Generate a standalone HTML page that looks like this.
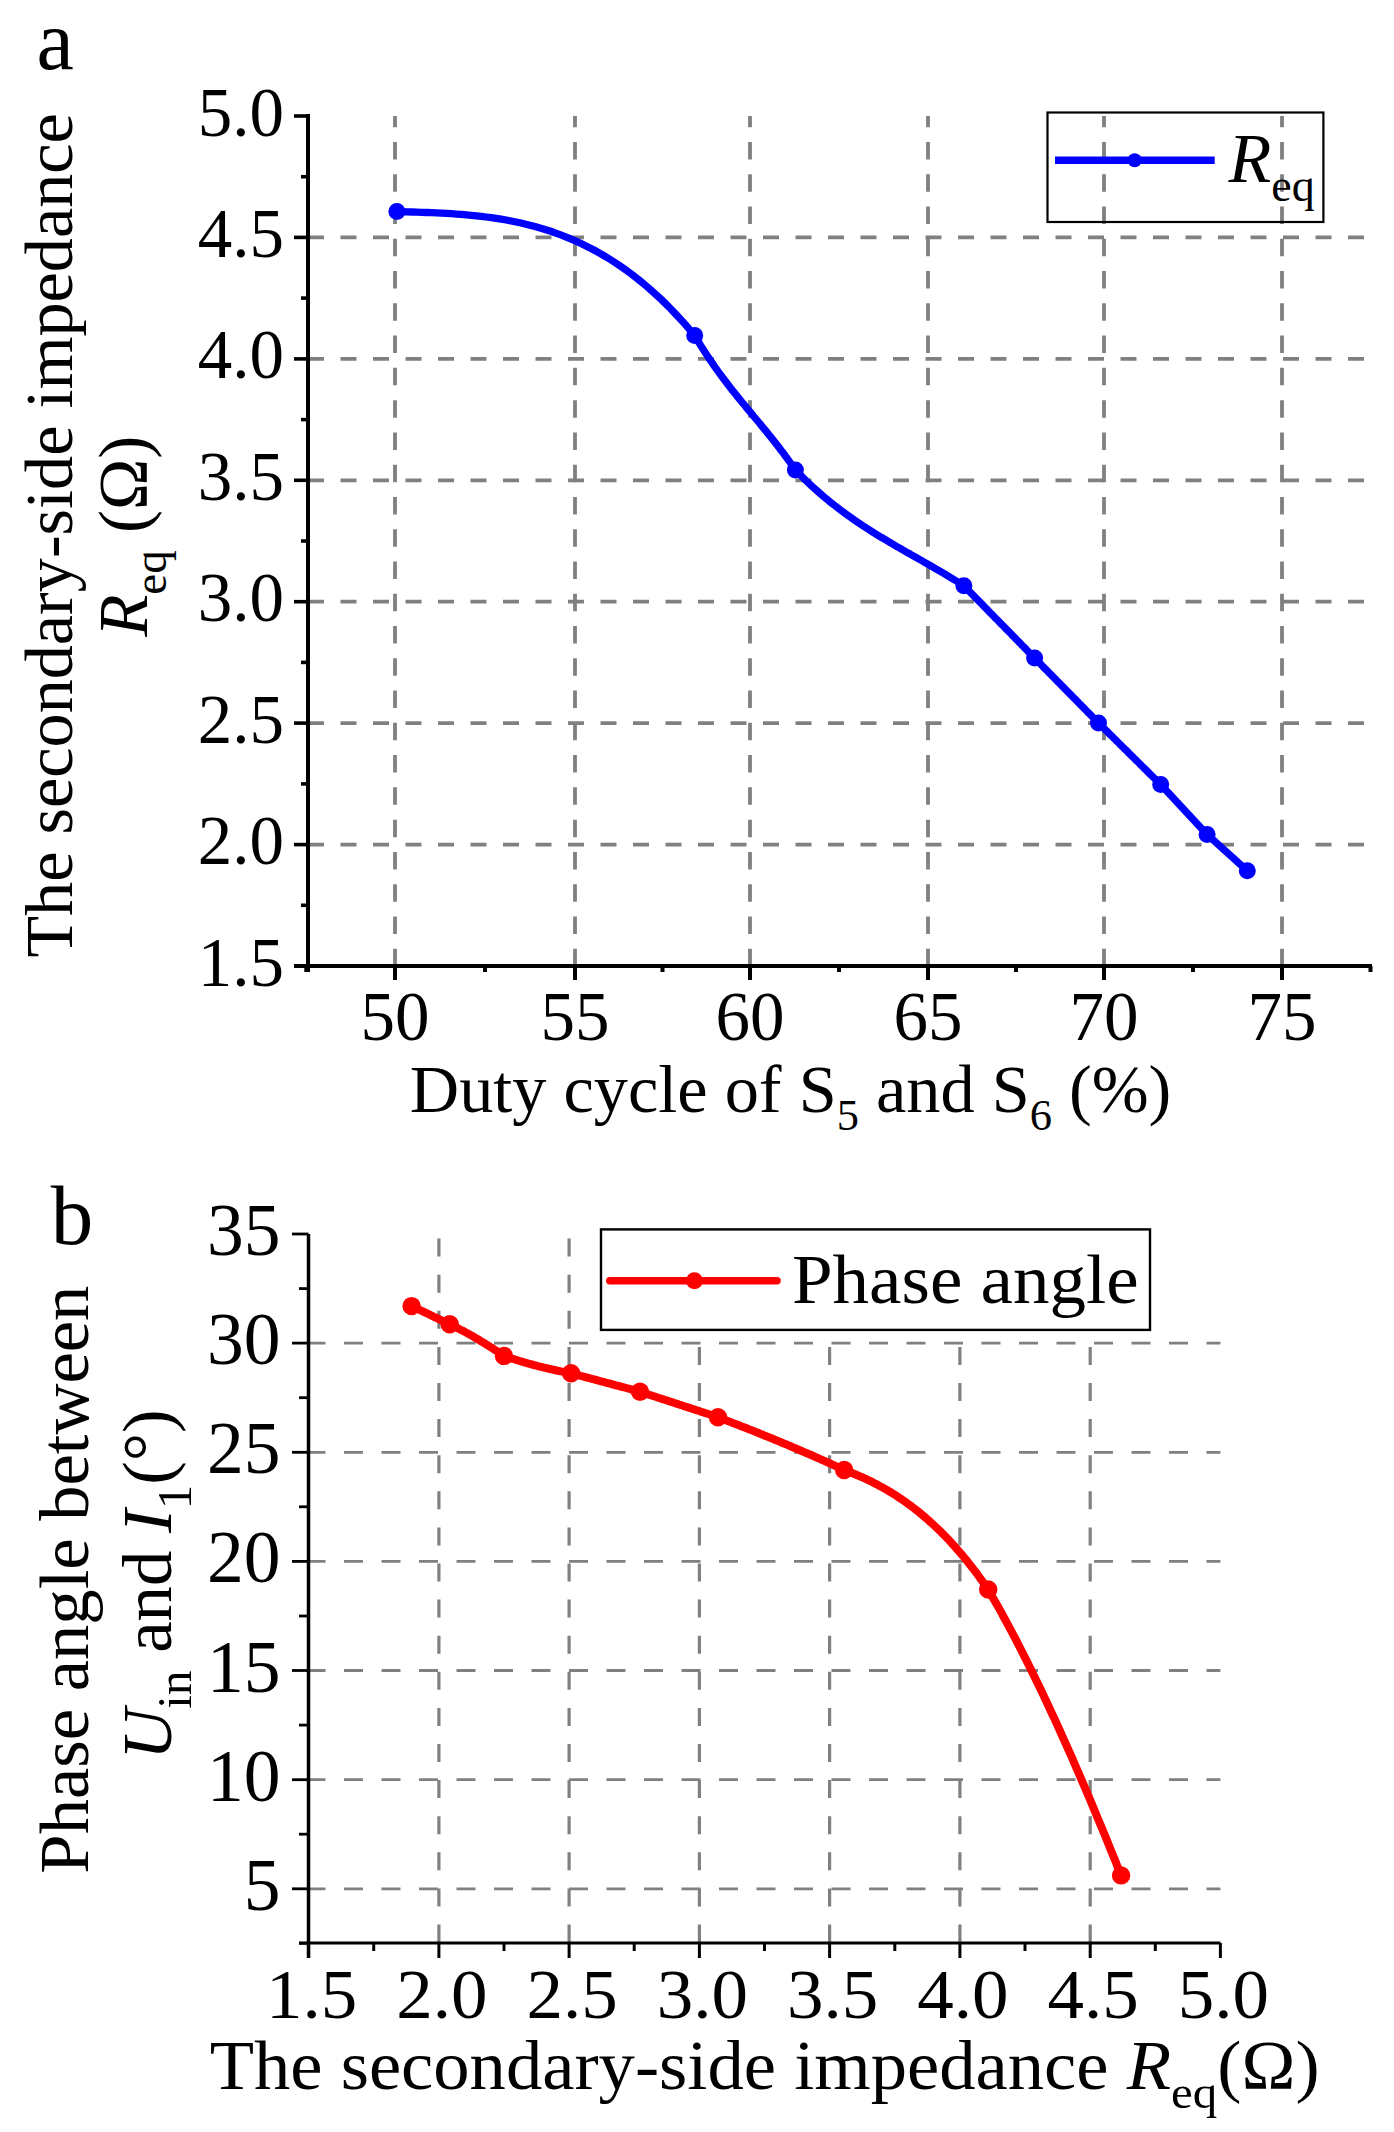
<!DOCTYPE html>
<html><head><meta charset="utf-8"><title>chart</title>
<style>html,body{margin:0;padding:0;background:#fff;} svg{display:block;} text{font-family:"Liberation Serif", serif; fill:#000;}</style>
</head><body>
<svg width="1394" height="2132" viewBox="0 0 1394 2132" font-family="'Liberation Serif', serif">
<line x1="308.0" y1="237.4" x2="1370" y2="237.4" stroke="#808080" stroke-width="3.8" stroke-dasharray="16 16.5"/>
<line x1="308.0" y1="358.9" x2="1370" y2="358.9" stroke="#808080" stroke-width="3.8" stroke-dasharray="16 16.5"/>
<line x1="308.0" y1="480.3" x2="1370" y2="480.3" stroke="#808080" stroke-width="3.8" stroke-dasharray="16 16.5"/>
<line x1="308.0" y1="601.7" x2="1370" y2="601.7" stroke="#808080" stroke-width="3.8" stroke-dasharray="16 16.5"/>
<line x1="308.0" y1="723.1" x2="1370" y2="723.1" stroke="#808080" stroke-width="3.8" stroke-dasharray="16 16.5"/>
<line x1="308.0" y1="844.6" x2="1370" y2="844.6" stroke="#808080" stroke-width="3.8" stroke-dasharray="16 16.5"/>
<line x1="395" y1="116.0" x2="395" y2="966.0" stroke="#808080" stroke-width="3.8" stroke-dasharray="17.5 14.77" stroke-dashoffset="6.3"/>
<line x1="575" y1="116.0" x2="575" y2="966.0" stroke="#808080" stroke-width="3.8" stroke-dasharray="17.5 14.77" stroke-dashoffset="6.3"/>
<line x1="750" y1="116.0" x2="750" y2="966.0" stroke="#808080" stroke-width="3.8" stroke-dasharray="17.5 14.77" stroke-dashoffset="6.3"/>
<line x1="928" y1="116.0" x2="928" y2="966.0" stroke="#808080" stroke-width="3.8" stroke-dasharray="17.5 14.77" stroke-dashoffset="6.3"/>
<line x1="1104" y1="116.0" x2="1104" y2="966.0" stroke="#808080" stroke-width="3.8" stroke-dasharray="17.5 14.77" stroke-dashoffset="6.3"/>
<line x1="1282" y1="116.0" x2="1282" y2="966.0" stroke="#808080" stroke-width="3.8" stroke-dasharray="17.5 14.77" stroke-dashoffset="6.3"/>
<line x1="308.0" y1="114.0" x2="308.0" y2="972" stroke="#000" stroke-width="4"/>
<line x1="294" y1="966.0" x2="1372" y2="966.0" stroke="#000" stroke-width="4"/>
<line x1="294" y1="116.0" x2="308.0" y2="116.0" stroke="#000" stroke-width="3.6"/>
<line x1="301" y1="176.7" x2="308.0" y2="176.7" stroke="#000" stroke-width="3.6"/>
<line x1="294" y1="237.4" x2="308.0" y2="237.4" stroke="#000" stroke-width="3.6"/>
<line x1="301" y1="298.1" x2="308.0" y2="298.1" stroke="#000" stroke-width="3.6"/>
<line x1="294" y1="358.9" x2="308.0" y2="358.9" stroke="#000" stroke-width="3.6"/>
<line x1="301" y1="419.6" x2="308.0" y2="419.6" stroke="#000" stroke-width="3.6"/>
<line x1="294" y1="480.3" x2="308.0" y2="480.3" stroke="#000" stroke-width="3.6"/>
<line x1="301" y1="541.0" x2="308.0" y2="541.0" stroke="#000" stroke-width="3.6"/>
<line x1="294" y1="601.7" x2="308.0" y2="601.7" stroke="#000" stroke-width="3.6"/>
<line x1="301" y1="662.4" x2="308.0" y2="662.4" stroke="#000" stroke-width="3.6"/>
<line x1="294" y1="723.1" x2="308.0" y2="723.1" stroke="#000" stroke-width="3.6"/>
<line x1="301" y1="783.9" x2="308.0" y2="783.9" stroke="#000" stroke-width="3.6"/>
<line x1="294" y1="844.6" x2="308.0" y2="844.6" stroke="#000" stroke-width="3.6"/>
<line x1="301" y1="905.3" x2="308.0" y2="905.3" stroke="#000" stroke-width="3.6"/>
<line x1="294" y1="966.0" x2="308.0" y2="966.0" stroke="#000" stroke-width="3.6"/>
<line x1="395" y1="966.0" x2="395" y2="980" stroke="#000" stroke-width="4"/>
<line x1="575" y1="966.0" x2="575" y2="980" stroke="#000" stroke-width="4"/>
<line x1="750" y1="966.0" x2="750" y2="980" stroke="#000" stroke-width="4"/>
<line x1="928" y1="966.0" x2="928" y2="980" stroke="#000" stroke-width="4"/>
<line x1="1104" y1="966.0" x2="1104" y2="980" stroke="#000" stroke-width="4"/>
<line x1="1282" y1="966.0" x2="1282" y2="980" stroke="#000" stroke-width="4"/>
<line x1="306.3" y1="966.0" x2="306.3" y2="972" stroke="#000" stroke-width="4"/>
<line x1="485" y1="966.0" x2="485" y2="972" stroke="#000" stroke-width="4"/>
<line x1="662.5" y1="966.0" x2="662.5" y2="972" stroke="#000" stroke-width="4"/>
<line x1="839" y1="966.0" x2="839" y2="972" stroke="#000" stroke-width="4"/>
<line x1="1016" y1="966.0" x2="1016" y2="972" stroke="#000" stroke-width="4"/>
<line x1="1193" y1="966.0" x2="1193" y2="972" stroke="#000" stroke-width="4"/>
<line x1="1370.5" y1="966.0" x2="1370.5" y2="972" stroke="#000" stroke-width="4"/>
<text x="284" y="135.5" font-size="69" text-anchor="end">5.0</text>
<text x="284" y="256.9" font-size="69" text-anchor="end">4.5</text>
<text x="284" y="378.4" font-size="69" text-anchor="end">4.0</text>
<text x="284" y="499.8" font-size="69" text-anchor="end">3.5</text>
<text x="284" y="621.2" font-size="69" text-anchor="end">3.0</text>
<text x="284" y="742.6" font-size="69" text-anchor="end">2.5</text>
<text x="284" y="864.1" font-size="69" text-anchor="end">2.0</text>
<text x="284" y="985.5" font-size="69" text-anchor="end">1.5</text>
<text x="395" y="1040" font-size="69" text-anchor="middle">50</text>
<text x="575" y="1040" font-size="69" text-anchor="middle">55</text>
<text x="750" y="1040" font-size="69" text-anchor="middle">60</text>
<text x="928" y="1040" font-size="69" text-anchor="middle">65</text>
<text x="1104" y="1040" font-size="69" text-anchor="middle">70</text>
<text x="1282" y="1040" font-size="69" text-anchor="middle">75</text>
<text x="790.6" y="1111.7" font-size="68.3" text-anchor="middle">Duty cycle of S<tspan font-size="44.5" dy="18">5</tspan><tspan dy="-18"> and S</tspan><tspan font-size="44.5" dy="18">6</tspan><tspan dy="-18"> (%)</tspan></text>
<text transform="translate(71.7,535.4) rotate(-90)" x="0" y="0" font-size="68.2" text-anchor="middle">The secondary-side impedance</text>
<text transform="translate(147.4,536.3) rotate(-90)" x="0" y="0" font-size="69" text-anchor="middle"><tspan font-style="italic">R</tspan><tspan font-size="47" dy="19">eq</tspan><tspan dy="-19"> (Ω)</tspan></text>
<rect x="1047.5" y="112.5" width="275.9" height="109.5" fill="none" stroke="#000" stroke-width="2.2"/>
<line x1="1055" y1="160.2" x2="1214.7" y2="160.2" stroke="#0000ff" stroke-width="7.5"/>
<circle cx="1134.7" cy="160.2" r="7" fill="#0000ff"/>
<text x="1228.5" y="181.8" font-size="70"><tspan font-style="italic">R</tspan><tspan font-size="46" dy="19">eq</tspan></text>
<path d="M396.9,211.6 L401.9,211.7 L406.8,211.9 L411.8,212.0 L416.8,212.2 L421.7,212.3 L426.7,212.5 L431.6,212.7 L436.6,212.9 L441.6,213.2 L446.5,213.4 L451.5,213.7 L456.5,214.1 L461.4,214.4 L466.4,214.9 L471.4,215.3 L476.3,215.8 L481.3,216.4 L486.2,217.0 L491.2,217.7 L496.2,218.4 L501.1,219.2 L506.1,220.0 L511.1,221.0 L516.0,222.0 L521.0,223.0 L525.9,224.2 L530.9,225.5 L535.9,226.8 L540.8,228.2 L545.8,229.7 L550.8,231.3 L555.7,233.1 L560.7,234.9 L565.7,236.8 L570.6,238.8 L575.6,241.0 L580.5,243.3 L585.5,245.7 L590.5,248.2 L595.4,250.8 L600.4,253.6 L605.4,256.5 L610.3,259.5 L615.3,262.7 L620.2,266.0 L625.2,269.5 L630.2,273.1 L635.1,276.9 L640.1,280.9 L645.1,285.0 L650.0,289.2 L655.0,293.7 L660.0,298.3 L664.9,303.0 L669.9,308.0 L674.8,313.1 L679.8,318.4 L684.8,323.9 L689.7,329.6 L694.7,335.5 L696.4,338.3 L698.1,341.1 L699.7,343.9 L701.4,346.6 L703.1,349.2 L704.8,351.9 L706.4,354.4 L708.1,357.0 L709.8,359.5 L711.5,361.9 L713.2,364.4 L714.8,366.8 L716.5,369.1 L718.2,371.5 L719.9,373.8 L721.6,376.1 L723.2,378.3 L724.9,380.5 L726.6,382.7 L728.3,384.9 L729.9,387.1 L731.6,389.2 L733.3,391.4 L735.0,393.5 L736.7,395.6 L738.3,397.6 L740.0,399.7 L741.7,401.8 L743.4,403.8 L745.0,405.8 L746.7,407.9 L748.4,409.9 L750.1,411.9 L751.8,413.9 L753.4,416.0 L755.1,418.0 L756.8,420.0 L758.5,422.0 L760.2,424.0 L761.8,426.1 L763.5,428.1 L765.2,430.2 L766.9,432.2 L768.5,434.3 L770.2,436.4 L771.9,438.4 L773.6,440.6 L775.3,442.7 L776.9,444.8 L778.6,447.0 L780.3,449.2 L782.0,451.4 L783.7,453.6 L785.3,455.9 L787.0,458.1 L788.7,460.5 L790.4,462.8 L792.0,465.2 L793.7,467.6 L795.4,470.0 L798.2,472.9 L801.0,475.7 L803.8,478.5 L806.6,481.2 L809.4,483.9 L812.2,486.5 L815.1,489.0 L817.9,491.5 L820.7,494.0 L823.5,496.4 L826.3,498.7 L829.1,501.1 L831.9,503.3 L834.7,505.5 L837.5,507.7 L840.3,509.8 L843.1,511.9 L845.9,514.0 L848.8,516.0 L851.6,518.0 L854.4,520.0 L857.2,521.9 L860.0,523.8 L862.8,525.7 L865.6,527.5 L868.4,529.3 L871.2,531.1 L874.0,532.9 L876.8,534.6 L879.6,536.3 L882.5,538.0 L885.3,539.7 L888.1,541.4 L890.9,543.0 L893.7,544.7 L896.5,546.3 L899.3,547.9 L902.1,549.5 L904.9,551.2 L907.7,552.8 L910.5,554.3 L913.3,555.9 L916.2,557.5 L919.0,559.1 L921.8,560.7 L924.6,562.3 L927.4,563.9 L930.2,565.5 L933.0,567.1 L935.8,568.8 L938.6,570.4 L941.4,572.0 L944.2,573.7 L947.0,575.4 L949.9,577.1 L952.7,578.8 L955.5,580.5 L958.3,582.2 L961.1,584.0 L963.9,585.8 L965.1,587.0 L966.3,588.2 L967.4,589.4 L968.6,590.6 L969.8,591.8 L971.0,593.0 L972.1,594.2 L973.3,595.4 L974.5,596.6 L975.7,597.8 L976.9,599.0 L978.0,600.2 L979.2,601.4 L980.4,602.6 L981.6,603.8 L982.8,605.1 L983.9,606.3 L985.1,607.5 L986.3,608.7 L987.5,609.9 L988.6,611.1 L989.8,612.3 L991.0,613.5 L992.2,614.7 L993.4,615.9 L994.5,617.1 L995.7,618.3 L996.9,619.5 L998.1,620.7 L999.2,621.9 L1000.4,623.1 L1001.6,624.3 L1002.8,625.5 L1004.0,626.7 L1005.1,627.9 L1006.3,629.1 L1007.5,630.3 L1008.7,631.5 L1009.9,632.7 L1011.0,633.9 L1012.2,635.1 L1013.4,636.3 L1014.6,637.5 L1015.7,638.7 L1016.9,640.0 L1018.1,641.2 L1019.3,642.4 L1020.5,643.6 L1021.6,644.8 L1022.8,646.0 L1024.0,647.2 L1025.2,648.4 L1026.4,649.6 L1027.5,650.8 L1028.7,652.0 L1029.9,653.2 L1031.1,654.4 L1032.2,655.6 L1033.4,656.8 L1034.6,658.0 L1035.7,659.1 L1036.7,660.2 L1037.8,661.2 L1038.9,662.3 L1039.9,663.4 L1041.0,664.5 L1042.1,665.6 L1043.1,666.7 L1044.2,667.8 L1045.2,668.8 L1046.3,669.9 L1047.4,671.0 L1048.4,672.1 L1049.5,673.2 L1050.6,674.2 L1051.6,675.3 L1052.7,676.4 L1053.8,677.5 L1054.8,678.6 L1055.9,679.7 L1057.0,680.8 L1058.0,681.8 L1059.1,682.9 L1060.2,684.0 L1061.2,685.1 L1062.3,686.2 L1063.4,687.2 L1064.4,688.3 L1065.5,689.4 L1066.5,690.5 L1067.6,691.6 L1068.7,692.7 L1069.7,693.8 L1070.8,694.8 L1071.9,695.9 L1072.9,697.0 L1074.0,698.1 L1075.1,699.2 L1076.1,700.2 L1077.2,701.3 L1078.3,702.4 L1079.3,703.5 L1080.4,704.6 L1081.5,705.7 L1082.5,706.8 L1083.6,707.8 L1084.7,708.9 L1085.7,710.0 L1086.8,711.1 L1087.8,712.2 L1088.9,713.2 L1090.0,714.3 L1091.0,715.4 L1092.1,716.5 L1093.2,717.6 L1094.2,718.7 L1095.3,719.8 L1096.4,720.8 L1097.4,721.9 L1098.5,723.0 L1099.5,724.0 L1100.6,725.1 L1101.6,726.1 L1102.6,727.1 L1103.7,728.1 L1104.7,729.2 L1105.8,730.2 L1106.8,731.2 L1107.8,732.2 L1108.9,733.3 L1109.9,734.3 L1110.9,735.3 L1112.0,736.3 L1113.0,737.4 L1114.0,738.4 L1115.1,739.4 L1116.1,740.5 L1117.2,741.5 L1118.2,742.5 L1119.2,743.5 L1120.3,744.6 L1121.3,745.6 L1122.3,746.6 L1123.4,747.6 L1124.4,748.7 L1125.5,749.7 L1126.5,750.7 L1127.5,751.7 L1128.6,752.8 L1129.6,753.8 L1130.6,754.8 L1131.7,755.9 L1132.7,756.9 L1133.7,757.9 L1134.8,758.9 L1135.8,760.0 L1136.9,761.0 L1137.9,762.0 L1138.9,763.0 L1140.0,764.1 L1141.0,765.1 L1142.0,766.1 L1143.1,767.1 L1144.1,768.2 L1145.2,769.2 L1146.2,770.2 L1147.2,771.3 L1148.3,772.3 L1149.3,773.3 L1150.3,774.3 L1151.4,775.4 L1152.4,776.4 L1153.4,777.4 L1154.5,778.4 L1155.5,779.5 L1156.6,780.5 L1157.6,781.5 L1158.6,782.5 L1159.7,783.6 L1160.7,784.6 L1161.5,785.4 L1162.2,786.3 L1163.0,787.1 L1163.8,787.9 L1164.6,788.8 L1165.3,789.6 L1166.1,790.4 L1166.9,791.3 L1167.7,792.1 L1168.4,792.9 L1169.2,793.7 L1170.0,794.6 L1170.8,795.4 L1171.5,796.2 L1172.3,797.1 L1173.1,797.9 L1173.8,798.7 L1174.6,799.6 L1175.4,800.4 L1176.2,801.2 L1176.9,802.1 L1177.7,802.9 L1178.5,803.7 L1179.3,804.6 L1180.0,805.4 L1180.8,806.2 L1181.6,807.1 L1182.4,807.9 L1183.1,808.7 L1183.9,809.5 L1184.7,810.4 L1185.4,811.2 L1186.2,812.0 L1187.0,812.9 L1187.8,813.7 L1188.5,814.5 L1189.3,815.4 L1190.1,816.2 L1190.9,817.0 L1191.6,817.9 L1192.4,818.7 L1193.2,819.5 L1194.0,820.4 L1194.7,821.2 L1195.5,822.0 L1196.3,822.9 L1197.0,823.7 L1197.8,824.5 L1198.6,825.4 L1199.4,826.2 L1200.1,827.0 L1200.9,827.8 L1201.7,828.7 L1202.5,829.5 L1203.2,830.3 L1204.0,831.2 L1204.8,832.0 L1205.6,832.8 L1206.3,833.7 L1207.1,834.5 L1207.8,835.1 L1208.4,835.7 L1209.1,836.3 L1209.8,836.9 L1210.4,837.5 L1211.1,838.1 L1211.8,838.7 L1212.5,839.3 L1213.1,839.9 L1213.8,840.5 L1214.5,841.1 L1215.1,841.7 L1215.8,842.3 L1216.5,842.9 L1217.1,843.5 L1217.8,844.2 L1218.5,844.8 L1219.2,845.4 L1219.8,846.0 L1220.5,846.6 L1221.2,847.2 L1221.8,847.8 L1222.5,848.4 L1223.2,849.0 L1223.8,849.6 L1224.5,850.2 L1225.2,850.8 L1225.9,851.4 L1226.5,852.0 L1227.2,852.6 L1227.9,853.2 L1228.5,853.8 L1229.2,854.4 L1229.9,855.0 L1230.5,855.6 L1231.2,856.2 L1231.9,856.8 L1232.6,857.4 L1233.2,858.0 L1233.9,858.6 L1234.6,859.2 L1235.2,859.8 L1235.9,860.4 L1236.6,861.0 L1237.2,861.7 L1237.9,862.3 L1238.6,862.9 L1239.3,863.5 L1239.9,864.1 L1240.6,864.7 L1241.3,865.3 L1241.9,865.9 L1242.6,866.5 L1243.3,867.1 L1244.0,867.7 L1244.6,868.3 L1245.3,868.9 L1246.0,869.5 L1246.6,870.1 L1247.3,870.7" fill="none" stroke="#0000ff" stroke-width="7.3" stroke-linejoin="round"/>
<circle cx="396.9" cy="211.6" r="8.5" fill="#0000ff"/>
<circle cx="694.7" cy="335.5" r="8.5" fill="#0000ff"/>
<circle cx="795.4" cy="470" r="8.5" fill="#0000ff"/>
<circle cx="963.9" cy="585.8" r="8.5" fill="#0000ff"/>
<circle cx="1034.6" cy="658" r="8.5" fill="#0000ff"/>
<circle cx="1098.5" cy="723" r="8.5" fill="#0000ff"/>
<circle cx="1160.7" cy="784.6" r="8.5" fill="#0000ff"/>
<circle cx="1207.1" cy="834.5" r="8.5" fill="#0000ff"/>
<circle cx="1247.3" cy="870.7" r="8.5" fill="#0000ff"/>
<text x="36.5" y="69" font-size="84">a</text>
<line x1="308.5" y1="1343.1" x2="1220.4" y2="1343.1" stroke="#808080" stroke-width="2.8" stroke-dasharray="19 18.5" stroke-dashoffset="2.0"/>
<line x1="308.5" y1="1452.3" x2="1220.4" y2="1452.3" stroke="#808080" stroke-width="2.8" stroke-dasharray="19 18.5" stroke-dashoffset="2.0"/>
<line x1="308.5" y1="1561.4" x2="1220.4" y2="1561.4" stroke="#808080" stroke-width="2.8" stroke-dasharray="19 18.5" stroke-dashoffset="2.0"/>
<line x1="308.5" y1="1670.5" x2="1220.4" y2="1670.5" stroke="#808080" stroke-width="2.8" stroke-dasharray="19 18.5" stroke-dashoffset="2.0"/>
<line x1="308.5" y1="1779.7" x2="1220.4" y2="1779.7" stroke="#808080" stroke-width="2.8" stroke-dasharray="19 18.5" stroke-dashoffset="2.0"/>
<line x1="308.5" y1="1888.8" x2="1220.4" y2="1888.8" stroke="#808080" stroke-width="2.8" stroke-dasharray="19 18.5" stroke-dashoffset="2.0"/>
<line x1="438.9" y1="1234.0" x2="438.9" y2="1943.0" stroke="#808080" stroke-width="3.2" stroke-dasharray="18 18.1" stroke-dashoffset="-4.6"/>
<line x1="569.1" y1="1234.0" x2="569.1" y2="1943.0" stroke="#808080" stroke-width="3.2" stroke-dasharray="18 18.1" stroke-dashoffset="-4.6"/>
<line x1="699.4" y1="1234.0" x2="699.4" y2="1943.0" stroke="#808080" stroke-width="3.2" stroke-dasharray="18 18.1" stroke-dashoffset="-4.6"/>
<line x1="829.6" y1="1234.0" x2="829.6" y2="1943.0" stroke="#808080" stroke-width="3.2" stroke-dasharray="18 18.1" stroke-dashoffset="-4.6"/>
<line x1="959.9" y1="1234.0" x2="959.9" y2="1943.0" stroke="#808080" stroke-width="3.2" stroke-dasharray="18 18.1" stroke-dashoffset="-4.6"/>
<line x1="1090.2" y1="1234.0" x2="1090.2" y2="1943.0" stroke="#808080" stroke-width="3.2" stroke-dasharray="18 18.1" stroke-dashoffset="-4.6"/>
<line x1="308.5" y1="1234.0" x2="308.5" y2="1958" stroke="#000" stroke-width="3.5"/>
<line x1="299" y1="1943.0" x2="1220.4" y2="1943.0" stroke="#000" stroke-width="2.8"/>
<line x1="292" y1="1234.0" x2="308.5" y2="1234.0" stroke="#000" stroke-width="2.8"/>
<line x1="299" y1="1288.6" x2="308.5" y2="1288.6" stroke="#000" stroke-width="2.8"/>
<line x1="292" y1="1343.1" x2="308.5" y2="1343.1" stroke="#000" stroke-width="2.8"/>
<line x1="299" y1="1397.7" x2="308.5" y2="1397.7" stroke="#000" stroke-width="2.8"/>
<line x1="292" y1="1452.3" x2="308.5" y2="1452.3" stroke="#000" stroke-width="2.8"/>
<line x1="299" y1="1506.8" x2="308.5" y2="1506.8" stroke="#000" stroke-width="2.8"/>
<line x1="292" y1="1561.4" x2="308.5" y2="1561.4" stroke="#000" stroke-width="2.8"/>
<line x1="299" y1="1616.0" x2="308.5" y2="1616.0" stroke="#000" stroke-width="2.8"/>
<line x1="292" y1="1670.5" x2="308.5" y2="1670.5" stroke="#000" stroke-width="2.8"/>
<line x1="299" y1="1725.1" x2="308.5" y2="1725.1" stroke="#000" stroke-width="2.8"/>
<line x1="292" y1="1779.7" x2="308.5" y2="1779.7" stroke="#000" stroke-width="2.8"/>
<line x1="299" y1="1834.2" x2="308.5" y2="1834.2" stroke="#000" stroke-width="2.8"/>
<line x1="292" y1="1888.8" x2="308.5" y2="1888.8" stroke="#000" stroke-width="2.8"/>
<line x1="299" y1="1943.3" x2="308.5" y2="1943.3" stroke="#000" stroke-width="2.8"/>
<line x1="308.6" y1="1943.0" x2="308.6" y2="1958" stroke="#000" stroke-width="3"/>
<line x1="373.7" y1="1943.0" x2="373.7" y2="1951" stroke="#000" stroke-width="3"/>
<line x1="438.9" y1="1943.0" x2="438.9" y2="1958" stroke="#000" stroke-width="3"/>
<line x1="504.0" y1="1943.0" x2="504.0" y2="1951" stroke="#000" stroke-width="3"/>
<line x1="569.1" y1="1943.0" x2="569.1" y2="1958" stroke="#000" stroke-width="3"/>
<line x1="634.2" y1="1943.0" x2="634.2" y2="1951" stroke="#000" stroke-width="3"/>
<line x1="699.4" y1="1943.0" x2="699.4" y2="1958" stroke="#000" stroke-width="3"/>
<line x1="764.5" y1="1943.0" x2="764.5" y2="1951" stroke="#000" stroke-width="3"/>
<line x1="829.6" y1="1943.0" x2="829.6" y2="1958" stroke="#000" stroke-width="3"/>
<line x1="894.8" y1="1943.0" x2="894.8" y2="1951" stroke="#000" stroke-width="3"/>
<line x1="959.9" y1="1943.0" x2="959.9" y2="1958" stroke="#000" stroke-width="3"/>
<line x1="1025.0" y1="1943.0" x2="1025.0" y2="1951" stroke="#000" stroke-width="3"/>
<line x1="1090.2" y1="1943.0" x2="1090.2" y2="1958" stroke="#000" stroke-width="3"/>
<line x1="1155.3" y1="1943.0" x2="1155.3" y2="1951" stroke="#000" stroke-width="3"/>
<line x1="1220.4" y1="1943.0" x2="1220.4" y2="1958" stroke="#000" stroke-width="3"/>
<text x="280.5" y="1255.0" font-size="73.5" text-anchor="end">35</text>
<text x="280.5" y="1364.1" font-size="73.5" text-anchor="end">30</text>
<text x="280.5" y="1473.3" font-size="73.5" text-anchor="end">25</text>
<text x="280.5" y="1582.4" font-size="73.5" text-anchor="end">20</text>
<text x="280.5" y="1691.5" font-size="73.5" text-anchor="end">15</text>
<text x="280.5" y="1800.7" font-size="73.5" text-anchor="end">10</text>
<text x="280.5" y="1909.8" font-size="73.5" text-anchor="end">5</text>
<text transform="translate(311.6,2017.6) scale(1,0.95)" x="0" y="0" font-size="73" text-anchor="middle">1.5</text>
<text transform="translate(441.9,2017.6) scale(1,0.95)" x="0" y="0" font-size="73" text-anchor="middle">2.0</text>
<text transform="translate(572.1,2017.6) scale(1,0.95)" x="0" y="0" font-size="73" text-anchor="middle">2.5</text>
<text transform="translate(702.4,2017.6) scale(1,0.95)" x="0" y="0" font-size="73" text-anchor="middle">3.0</text>
<text transform="translate(832.6,2017.6) scale(1,0.95)" x="0" y="0" font-size="73" text-anchor="middle">3.5</text>
<text transform="translate(962.9,2017.6) scale(1,0.95)" x="0" y="0" font-size="73" text-anchor="middle">4.0</text>
<text transform="translate(1093.2,2017.6) scale(1,0.95)" x="0" y="0" font-size="73" text-anchor="middle">4.5</text>
<text transform="translate(1223.4,2017.6) scale(1,0.95)" x="0" y="0" font-size="73" text-anchor="middle">5.0</text>
<text transform="translate(764.6,2089.3) scale(1,0.965)" x="0" y="0" font-size="72.6" text-anchor="middle">The secondary-side impedance <tspan font-style="italic">R</tspan><tspan font-size="49" dy="19">eq</tspan><tspan dy="-19">(Ω)</tspan></text>
<text transform="translate(87.5,1579.6) rotate(-90)" x="0" y="0" font-size="70.6" text-anchor="middle">Phase angle between</text>
<text transform="translate(171,1584.6) rotate(-90)" x="0" y="0" font-size="70.8" text-anchor="middle"><tspan font-style="italic">U</tspan><tspan font-size="49" dy="20">in</tspan><tspan dy="-20"> and </tspan><tspan font-style="italic">I</tspan><tspan font-size="49" dy="20">1</tspan><tspan dy="-20">(°)</tspan></text>
<rect x="601" y="1229.4" width="549" height="100.5" fill="#fff" stroke="#000" stroke-width="2.4"/>
<line x1="609.7" y1="1280.7" x2="777.1" y2="1280.7" stroke="#ff0000" stroke-width="7.4" stroke-linecap="round"/>
<circle cx="694.4" cy="1280.7" r="8.5" fill="#ff0000"/>
<text transform="translate(792,1303.4) scale(1,0.96)" x="0" y="0" font-size="73">Phase angle</text>
<path d="M411.6,1306.1 L412.2,1306.4 L412.9,1306.7 L413.5,1307.0 L414.1,1307.3 L414.8,1307.6 L415.4,1307.9 L416.0,1308.2 L416.7,1308.5 L417.3,1308.8 L418.0,1309.1 L418.6,1309.4 L419.2,1309.7 L419.9,1310.0 L420.5,1310.3 L421.1,1310.6 L421.8,1310.9 L422.4,1311.2 L423.0,1311.5 L423.7,1311.8 L424.3,1312.1 L424.9,1312.4 L425.6,1312.7 L426.2,1313.0 L426.8,1313.3 L427.5,1313.6 L428.1,1313.9 L428.7,1314.2 L429.4,1314.5 L430.0,1314.8 L430.6,1315.2 L431.3,1315.5 L431.9,1315.8 L432.6,1316.1 L433.2,1316.4 L433.8,1316.7 L434.5,1317.0 L435.1,1317.3 L435.7,1317.6 L436.4,1317.9 L437.0,1318.2 L437.6,1318.5 L438.3,1318.8 L438.9,1319.1 L439.5,1319.4 L440.2,1319.7 L440.8,1320.0 L441.4,1320.3 L442.1,1320.6 L442.7,1320.9 L443.4,1321.2 L444.0,1321.5 L444.6,1321.8 L445.3,1322.1 L445.9,1322.4 L446.5,1322.7 L447.2,1323.0 L447.8,1323.3 L448.4,1323.6 L449.1,1323.9 L449.7,1324.2 L450.6,1324.6 L451.5,1325.1 L452.4,1325.5 L453.3,1326.0 L454.2,1326.4 L455.1,1326.9 L456.0,1327.3 L456.9,1327.8 L457.8,1328.3 L458.8,1328.7 L459.7,1329.2 L460.6,1329.7 L461.5,1330.2 L462.4,1330.6 L463.3,1331.1 L464.2,1331.6 L465.1,1332.1 L466.0,1332.6 L466.9,1333.1 L467.8,1333.6 L468.7,1334.1 L469.6,1334.6 L470.5,1335.1 L471.4,1335.6 L472.3,1336.1 L473.2,1336.6 L474.1,1337.1 L475.0,1337.7 L475.9,1338.2 L476.9,1338.7 L477.8,1339.2 L478.7,1339.8 L479.6,1340.3 L480.5,1340.9 L481.4,1341.4 L482.3,1341.9 L483.2,1342.5 L484.1,1343.0 L485.0,1343.6 L485.9,1344.2 L486.8,1344.7 L487.7,1345.3 L488.6,1345.8 L489.5,1346.4 L490.4,1347.0 L491.3,1347.6 L492.2,1348.1 L493.1,1348.7 L494.0,1349.3 L494.9,1349.9 L495.9,1350.5 L496.8,1351.1 L497.7,1351.7 L498.6,1352.3 L499.5,1352.9 L500.4,1353.5 L501.3,1354.1 L502.2,1354.7 L503.1,1355.3 L504.0,1355.9 L505.1,1356.3 L506.2,1356.7 L507.4,1357.0 L508.5,1357.4 L509.6,1357.8 L510.7,1358.1 L511.8,1358.5 L512.9,1358.9 L514.1,1359.2 L515.2,1359.6 L516.3,1359.9 L517.4,1360.3 L518.5,1360.6 L519.7,1361.0 L520.8,1361.3 L521.9,1361.6 L523.0,1362.0 L524.1,1362.3 L525.2,1362.6 L526.4,1362.9 L527.5,1363.3 L528.6,1363.6 L529.7,1363.9 L530.8,1364.2 L532.0,1364.5 L533.1,1364.8 L534.2,1365.1 L535.3,1365.4 L536.4,1365.7 L537.5,1366.0 L538.7,1366.3 L539.8,1366.6 L540.9,1366.8 L542.0,1367.1 L543.1,1367.4 L544.3,1367.7 L545.4,1367.9 L546.5,1368.2 L547.6,1368.5 L548.7,1368.7 L549.9,1369.0 L551.0,1369.2 L552.1,1369.5 L553.2,1369.7 L554.3,1370.0 L555.4,1370.2 L556.6,1370.5 L557.7,1370.7 L558.8,1370.9 L559.9,1371.2 L561.0,1371.4 L562.2,1371.6 L563.3,1371.8 L564.4,1372.1 L565.5,1372.3 L566.6,1372.5 L567.7,1372.7 L568.9,1372.9 L570.0,1373.1 L571.1,1373.3 L572.2,1373.6 L573.4,1373.9 L574.5,1374.2 L575.7,1374.5 L576.8,1374.8 L578.0,1375.1 L579.1,1375.4 L580.3,1375.8 L581.4,1376.1 L582.6,1376.4 L583.7,1376.7 L584.9,1377.0 L586.0,1377.3 L587.2,1377.6 L588.3,1377.9 L589.5,1378.2 L590.6,1378.5 L591.8,1378.8 L592.9,1379.1 L594.1,1379.4 L595.2,1379.7 L596.4,1380.0 L597.5,1380.4 L598.7,1380.7 L599.8,1381.0 L601.0,1381.3 L602.1,1381.6 L603.3,1381.9 L604.4,1382.2 L605.5,1382.5 L606.7,1382.8 L607.8,1383.1 L609.0,1383.4 L610.1,1383.7 L611.3,1384.0 L612.4,1384.3 L613.6,1384.6 L614.7,1385.0 L615.9,1385.3 L617.0,1385.6 L618.2,1385.9 L619.3,1386.2 L620.5,1386.5 L621.6,1386.8 L622.8,1387.1 L623.9,1387.4 L625.1,1387.7 L626.2,1388.0 L627.4,1388.3 L628.5,1388.6 L629.7,1388.9 L630.8,1389.2 L632.0,1389.6 L633.1,1389.9 L634.3,1390.2 L635.4,1390.5 L636.6,1390.8 L637.7,1391.1 L638.9,1391.4 L640.0,1391.7 L641.3,1392.1 L642.6,1392.5 L643.9,1393.0 L645.2,1393.4 L646.5,1393.8 L647.8,1394.2 L649.1,1394.7 L650.4,1395.1 L651.7,1395.5 L653.0,1396.0 L654.3,1396.4 L655.6,1396.8 L656.9,1397.2 L658.2,1397.7 L659.5,1398.1 L660.8,1398.5 L662.1,1398.9 L663.4,1399.4 L664.7,1399.8 L666.0,1400.2 L667.3,1400.6 L668.6,1401.0 L669.9,1401.5 L671.2,1401.9 L672.5,1402.3 L673.8,1402.8 L675.1,1403.2 L676.4,1403.6 L677.7,1404.0 L679.0,1404.5 L680.3,1404.9 L681.6,1405.3 L682.9,1405.7 L684.2,1406.2 L685.5,1406.6 L686.8,1407.0 L688.1,1407.4 L689.4,1407.9 L690.7,1408.3 L692.0,1408.7 L693.3,1409.1 L694.6,1409.5 L695.9,1410.0 L697.2,1410.4 L698.5,1410.8 L699.8,1411.2 L701.1,1411.7 L702.4,1412.1 L703.7,1412.5 L705.0,1413.0 L706.3,1413.4 L707.6,1413.8 L708.9,1414.2 L710.2,1414.7 L711.5,1415.1 L712.8,1415.5 L714.1,1415.9 L715.4,1416.4 L716.7,1416.8 L718.0,1417.2 L720.1,1418.0 L722.2,1418.8 L724.3,1419.6 L726.4,1420.4 L728.5,1421.2 L730.6,1422.1 L732.7,1422.9 L734.8,1423.7 L736.9,1424.5 L739.0,1425.3 L741.1,1426.2 L743.2,1427.0 L745.3,1427.8 L747.4,1428.6 L749.5,1429.5 L751.7,1430.3 L753.8,1431.1 L755.9,1432.0 L758.0,1432.8 L760.1,1433.7 L762.2,1434.5 L764.3,1435.4 L766.4,1436.2 L768.5,1437.1 L770.6,1437.9 L772.7,1438.8 L774.8,1439.7 L776.9,1440.5 L779.0,1441.4 L781.1,1442.3 L783.2,1443.2 L785.3,1444.0 L787.4,1444.9 L789.5,1445.8 L791.6,1446.7 L793.7,1447.6 L795.8,1448.5 L797.9,1449.4 L800.0,1450.3 L802.1,1451.2 L804.2,1452.1 L806.3,1453.0 L808.4,1453.9 L810.5,1454.8 L812.7,1455.7 L814.8,1456.7 L816.9,1457.6 L819.0,1458.5 L821.1,1459.5 L823.2,1460.4 L825.3,1461.3 L827.4,1462.3 L829.5,1463.2 L831.6,1464.2 L833.7,1465.1 L835.8,1466.1 L837.9,1467.1 L840.0,1468.0 L842.1,1469.0 L844.2,1470.0 L846.6,1470.9 L849.0,1471.8 L851.4,1472.7 L853.8,1473.7 L856.2,1474.7 L858.6,1475.7 L861.0,1476.8 L863.4,1477.8 L865.8,1478.9 L868.2,1480.1 L870.6,1481.2 L873.0,1482.4 L875.4,1483.7 L877.8,1484.9 L880.2,1486.2 L882.6,1487.5 L885.0,1488.9 L887.4,1490.3 L889.8,1491.7 L892.2,1493.2 L894.6,1494.7 L897.0,1496.2 L899.4,1497.8 L901.8,1499.4 L904.2,1501.1 L906.6,1502.8 L909.0,1504.5 L911.4,1506.3 L913.8,1508.1 L916.2,1510.0 L918.6,1511.9 L921.0,1513.9 L923.4,1515.9 L925.8,1517.9 L928.2,1520.0 L930.6,1522.2 L933.0,1524.4 L935.4,1526.6 L937.8,1528.9 L940.2,1531.2 L942.6,1533.6 L945.0,1536.1 L947.4,1538.6 L949.8,1541.1 L952.2,1543.7 L954.6,1546.3 L957.0,1549.1 L959.4,1551.8 L961.8,1554.6 L964.2,1557.5 L966.6,1560.4 L969.0,1563.4 L971.4,1566.5 L973.8,1569.6 L976.2,1572.7 L978.6,1576.0 L981.0,1579.3 L983.4,1582.6 L985.8,1586.0 L988.2,1589.5 L990.4,1593.3 L992.6,1597.2 L994.8,1601.0 L997.1,1605.0 L999.3,1608.9 L1001.5,1612.9 L1003.7,1617.0 L1005.9,1621.0 L1008.1,1625.1 L1010.4,1629.3 L1012.6,1633.5 L1014.8,1637.7 L1017.0,1641.9 L1019.2,1646.2 L1021.4,1650.5 L1023.6,1654.9 L1025.9,1659.3 L1028.1,1663.7 L1030.3,1668.2 L1032.5,1672.7 L1034.7,1677.2 L1036.9,1681.7 L1039.1,1686.3 L1041.4,1690.9 L1043.6,1695.6 L1045.8,1700.3 L1048.0,1705.0 L1050.2,1709.7 L1052.4,1714.5 L1054.7,1719.3 L1056.9,1724.1 L1059.1,1729.0 L1061.3,1733.9 L1063.5,1738.8 L1065.7,1743.7 L1067.9,1748.7 L1070.2,1753.7 L1072.4,1758.7 L1074.6,1763.8 L1076.8,1768.8 L1079.0,1773.9 L1081.2,1779.1 L1083.4,1784.2 L1085.7,1789.4 L1087.9,1794.6 L1090.1,1799.8 L1092.3,1805.1 L1094.5,1810.4 L1096.7,1815.7 L1098.9,1821.0 L1101.2,1826.3 L1103.4,1831.7 L1105.6,1837.1 L1107.8,1842.5 L1110.0,1847.9 L1112.2,1853.4 L1114.5,1858.9 L1116.7,1864.4 L1118.9,1869.9 L1121.1,1875.4" fill="none" stroke="#ff0000" stroke-width="8.0" stroke-linejoin="round"/>
<circle cx="411.6" cy="1306.1" r="9.2" fill="#ff0000"/>
<circle cx="449.7" cy="1324.2" r="9.2" fill="#ff0000"/>
<circle cx="504" cy="1355.9" r="9.2" fill="#ff0000"/>
<circle cx="571.1" cy="1373.3" r="9.2" fill="#ff0000"/>
<circle cx="640" cy="1391.7" r="9.2" fill="#ff0000"/>
<circle cx="718" cy="1417.2" r="9.2" fill="#ff0000"/>
<circle cx="844.2" cy="1470" r="9.2" fill="#ff0000"/>
<circle cx="988.2" cy="1589.5" r="9.2" fill="#ff0000"/>
<circle cx="1121.1" cy="1875.4" r="9.2" fill="#ff0000"/>
<text x="50.8" y="1244" font-size="85">b</text>
</svg>
</body></html>
